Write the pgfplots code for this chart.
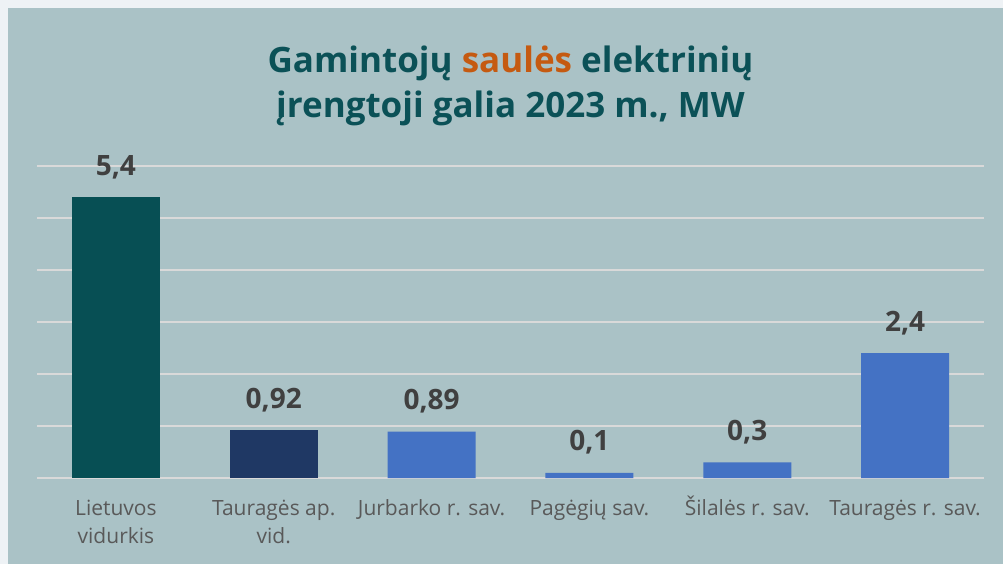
\documentclass[border=0pt]{standalone}
\usepackage{pgfplots}
\pgfplotsset{compat=1.18}
\usepackage{fontspec}
\setmainfont{Open Sans}
\definecolor{frame}{HTML}{EEF2F5}
\definecolor{bg}{HTML}{AAC2C6}
\definecolor{grid}{HTML}{D9D9D9}
\definecolor{teal}{HTML}{074F54}
\definecolor{navy}{HTML}{1F3864}
\definecolor{blue}{HTML}{4472C4}
\definecolor{titlec}{HTML}{0B5157}
\definecolor{orange}{HTML}{C55A11}
\definecolor{vallab}{HTML}{404040}
\definecolor{ticklab}{HTML}{595959}
\begin{document}
\begin{tikzpicture}
\fill[frame] (0,0) rectangle (1003bp,564bp);
\fill[bg] (8bp,0) rectangle (1003bp,556bp);
\begin{axis}[
  at={(37bp,86bp)}, anchor=south west,
  scale only axis, width=947bp, height=312bp,
  xmin=-0.5, xmax=5.5, ymin=0, ymax=6,
  axis line style={draw=none},
  major tick length=0pt,
  ybar, bar width=88bp, bar shift=0pt,
  ytick={0,1,2,3,4,5,6}, yticklabels={},
  xtick={0,1,2,3,4,5},
  xticklabels={{\vphantom{Š}Lietuvos\\vidurkis},{\vphantom{Š}Tauragės ap.\\vid.},{\vphantom{Š}Jurbarko r. sav.},{\vphantom{Š}Pagėgių sav.},{\vphantom{Š}Šilalės r. sav.},{\vphantom{Š}Tauragės r. sav.}},
  x tick label style={font=\fontsize{21bp}{28bp}\selectfont, text=ticklab, align=center, anchor=north, yshift=-14bp},
  nodes near coords={\pgfmathprintnumber[use comma, precision=2, assume math mode=true]{\pgfplotspointmeta}},
  nodes near coords style={font=\fontsize{28bp}{30bp}\selectfont\bfseries, text=vallab, anchor=base, inner sep=0pt, yshift=22bp},
  clip=false,
]
\pgfplotsextra{
  \foreach \yy in {0,1,2,3,4,5,6} {
    \draw[grid, line width=1.5bp] (axis cs:-0.5,\yy) -- (axis cs:5.5,\yy);
  }
}
\addplot[fill=teal, draw=none] coordinates {(0,5.4)};
\addplot[fill=navy, draw=none] coordinates {(1,0.92)};
\addplot[fill=blue, draw=none] coordinates {(2,0.89) (3,0.1) (4,0.3) (5,2.4)};
\end{axis}
\node[align=center, font=\fontsize{35bp}{45bp}\selectfont\bfseries, text=titlec] at (510.5bp,478bp)
  {Gamintojų {\color{orange}saulės} elektrinių\\įrengtoji galia 2023 m., MW};
\pgfresetboundingbox
\useasboundingbox (0,0) rectangle (1003bp,564bp);
\end{tikzpicture}
\end{document}
